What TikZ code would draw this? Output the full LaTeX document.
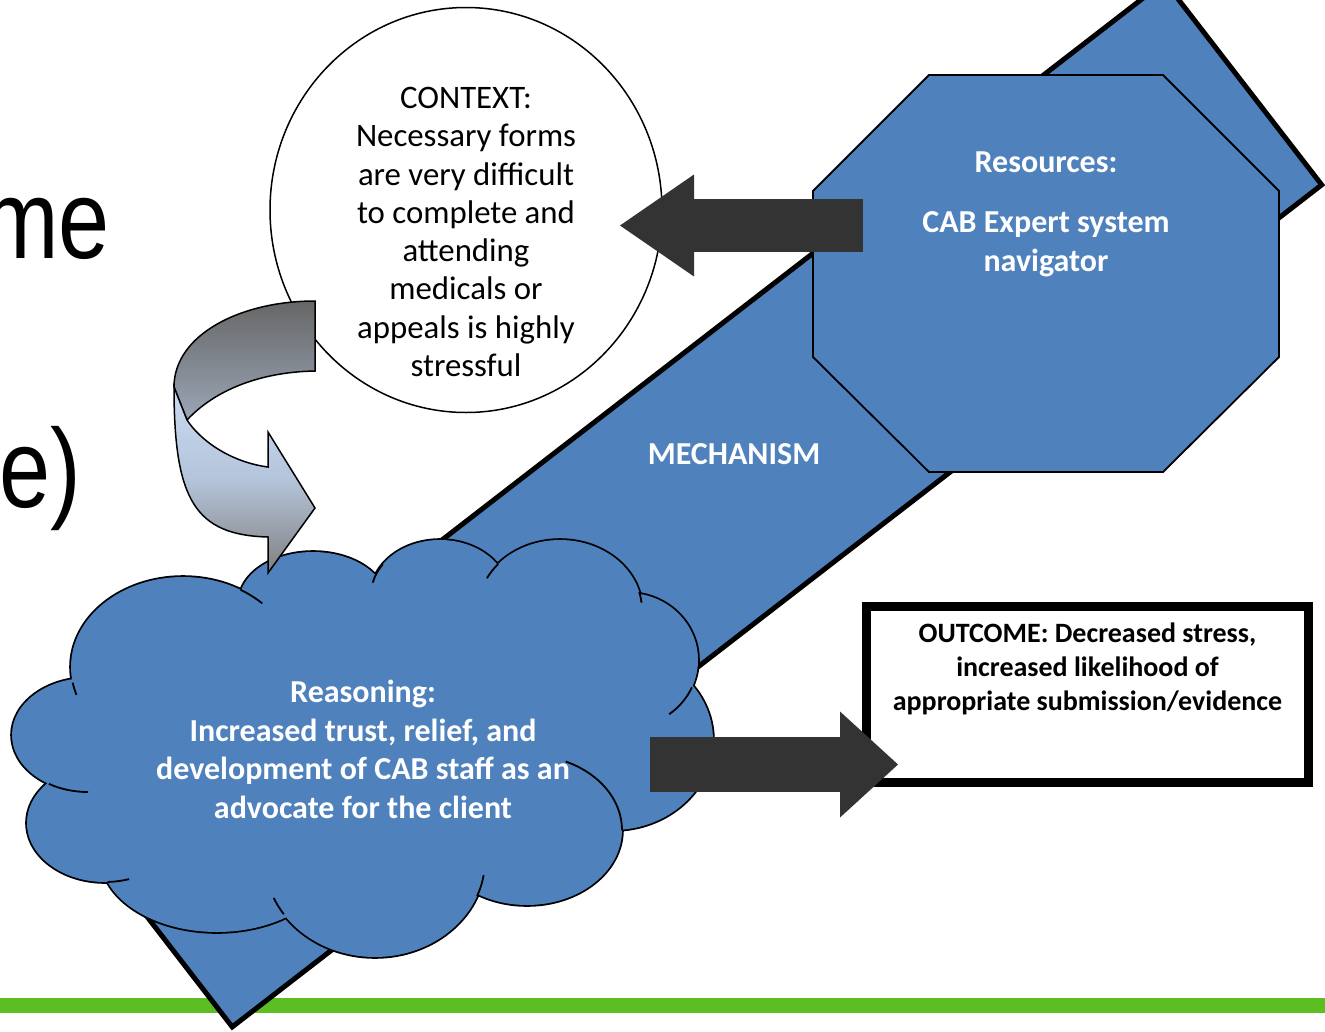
\documentclass[tikz,border=0pt]{standalone}
\usepackage{fontspec}
\setmainfont{Carlito}
\newfontfamily\arialfont{Liberation Sans}
\usetikzlibrary{positioning,shapes.geometric,arrows.meta}

\definecolor{cabblue}{RGB}{79,129,189}
\definecolor{arrowgray}{RGB}{51,51,51}
\definecolor{slidegreen}{RGB}{92,190,35}
\definecolor{twisttop}{RGB}{102,102,102}
\definecolor{twistmid}{RGB}{155,166,182}
\definecolor{twistlight}{RGB}{202,219,241}
\definecolor{twistcentre}{RGB}{180,196,218}
\definecolor{twistlow}{RGB}{128,128,128}

\tikzset{
  mechbox/.style={draw=black, line width=5pt, fill=cabblue, rotate=37.7,
    minimum width=1377pt, minimum height=257pt, inner sep=0pt},
  octa/.style={draw=black, line width=1.8pt, fill=cabblue},
  ctxshape/.style={draw=black, line width=1.5pt, fill=white, ellipse,
    minimum width=392pt, minimum height=405pt, inner sep=0pt, outer sep=0pt},
  whitelabel/.style={text=white, font=\bfseries\fontsize{32}{38.5}\selectfont,
    align=center, inner sep=0pt},
  ctxlabel/.style={text=black, font=\fontsize{32.8}{38.3}\selectfont,
    align=center, inner sep=0pt},
  outlabel/.style={text=black, font=\bfseries\fontsize{28}{34}\selectfont,
    align=center, inner sep=0pt},
  outbox/.style={draw=black, line width=9pt, fill=white, minimum width=442pt,
    minimum height=176pt, inner sep=0pt, outer sep=0pt},
  bigword/.style={font=\arialfont\fontsize{112}{112}\selectfont, inner sep=0pt,
    anchor=base east},
  fatarrow/.style={draw=arrowgray, line width=#1},
  puffline/.style={draw=black, line width=3.6pt},
  stub/.style={draw=black, line width=1.8pt},
  twistback/.style={draw=black, line width=1.5pt, top color=twisttop,
    bottom color=twistmid},
  twistfront/.style={draw=black, line width=1.5pt, top color=twistlight,
    bottom color=twistlow, middle color=twistcentre}
}

\begin{document}
\begin{tikzpicture}[x=1pt, y=-1pt]
  \path[use as bounding box, clip] (0,0) rectangle (1325,1031);

  % title letters cut off at the left
  \node[bigword] (titleone) at (110,258) {\scalebox{0.82}[1]{me}};
  \node[bigword] (titletwo) at (81,507) {\scalebox{0.82}[1]{e)}};

  \fill[slidegreen] (0,998) rectangle (1325,1013);

  % mechanism bar
  \node[mechbox] (mech) at (698.4,504.2) {};
  \node[whitelabel] (mechtxt) at (734,454) {MECHANISM};

  % resources
  \draw[octa] (929,75) -- (1163,75) -- (1279,191) -- (1279,357) -- (1163,472)
    -- (929,472) -- (813,357) -- (813,191) -- cycle;
  \coordinate (res) at (1046,75);
  \node[whitelabel, below=77pt of res] (restxt) {Resources:\\[21.5pt]CAB Expert system\\navigator};

  % context
  \node[ctxshape] (ctx) at (466,210) {};
  \node[ctxlabel, below=79.5pt of ctx.north] (ctxtxt) {CONTEXT:\\Necessary forms\\are very difficult\\to complete and\\attending\\medicals or\\appeals is highly\\stressful};

  % reasoning cloud
  \def\puffs{183/667/112/90, 88/735/76/57, 105/823/78/59, 217/857/116/75,
    375/860/110/97, 527/830/95/75, 613/740/100/90, 628/660/70/67,
    560/610/82/70, 440/595/69/55, 313/602/74/50}
  \foreach \cx/\cy/\rx/\ry in \puffs
    \draw[puffline] (\cx,\cy) ellipse [x radius=\rx, y radius=\ry];
  \foreach \cx/\cy/\rx/\ry in \puffs
    \fill[cabblue] (\cx,\cy) ellipse [x radius=\rx, y radius=\ry];
  \fill[cabblue] (183,667) -- (88,735) -- (105,823) -- (217,857) -- (375,860)
    -- (527,830) -- (613,740) -- (628,660) -- (560,610) -- (440,595) -- (313,602) -- cycle;
  \foreach \cx/\cy/\rx/\ry/\a/\b in {183/667/112/90/170/162, 183/667/112/90/-59/-45,
      88/735/76/57/121/90, 105/823/78/59/88/72, 375/860/110/97/146/157,
      375/860/110/97/22/9, 527/830/95/75/0/-66, 628/660/70/67/24/54,
      560/610/82/70/-139/-153, 560/610/82/70/-15/-6, 440/595/69/55/-146/-167}
    \draw[stub] (\cx,\cy) ++({\a}:{\rx} and {\ry}) arc[start angle=\a, end angle=\b, x radius=\rx, y radius=\ry];
  \node[whitelabel, anchor=north] (reatxt) at (363,680) {Reasoning:\\Increased trust, relief, and\\development of CAB staff as an\\advocate for the client};

  % curved arrow from context to reasoning
  \draw[twistback] (315,301) .. controls (240,301) and (174,335) .. (174,387)
    -- (187,420) .. controls (215,390) and (260,372) .. (315,371) -- cycle;
  \draw[twistfront] (174,387) .. controls (174,500) and (195,535) .. (268,537)
    -- (268,573) -- (315,508) -- (268,432) -- (268,467)
    .. controls (230,462) and (200,440) .. (187,420) -- cycle;

  % outcome
  \node[outbox] (outcome) at (1087.5,694.5) {};
  \node[outlabel, below=16.5pt of outcome.north] (outtxt) {OUTCOME: Decreased stress,\\increased likelihood of\\appropriate submission/evidence};

  % block arrows
  \coordinate (resout) at (863,225.5);
  \coordinate (ctxin) at (620,225.5);
  \draw[fatarrow=53pt, -{Triangle[length=74pt, width=102pt, line width=0pt]}] (resout) -- (ctxin);
  \coordinate (cloudout) at (650,764.5);
  \coordinate (outin) at (898,764.5);
  \draw[fatarrow=55pt, -{Triangle[length=58pt, width=106pt, line width=0pt]}] (cloudout) -- (outin);
\end{tikzpicture}
\end{document}
